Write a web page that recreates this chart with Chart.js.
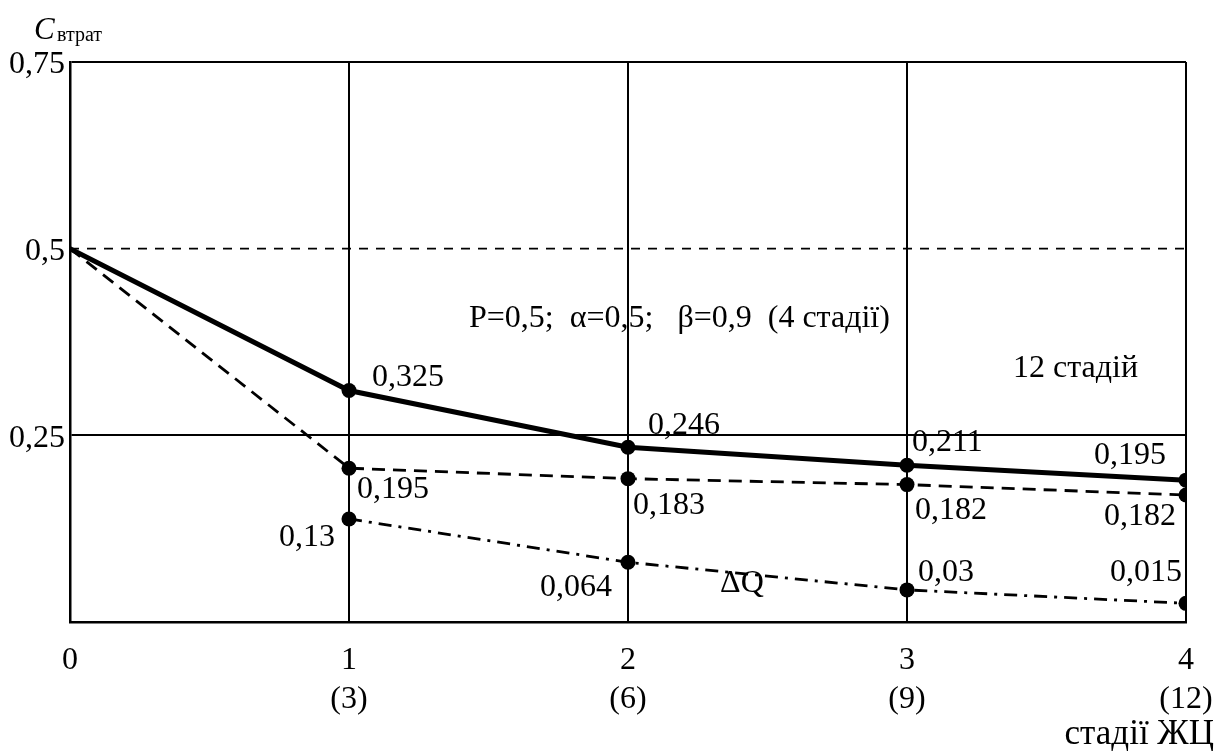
<!DOCTYPE html>
<html>
<head>
<meta charset="utf-8">
<script src="https://cdn.jsdelivr.net/npm/chart.js@4/dist/chart.umd.min.js"></script>
<style>
  body { margin: 0; background: #fff; }
  #wrap { width: 1217px; height: 751px; position: relative; }
</style>
</head>
<body>
<div id="wrap"><canvas id="myChart"></canvas></div>
<script>
// stages of the life cycle (in brackets - for 12 stages)
const stages = [0, 1, 2, 3, 4];
const stagesSub = ["", "(3)", "(6)", "(9)", "(12)"];

// values as drawn on the picture
const lossFour = [0.5, 0.310, 0.234, 0.210, 0.190];
const lossTwelve = [0.5, 0.206, 0.192, 0.184, 0.170];
const deltaQ = [null, 0.138, 0.080, 0.043, 0.025];
const refLevel = [0.5, 0.5, 0.5, 0.5, 0.5];

// labels written next to the points
const lossFourText = ["", "0,325", "0,246", "0,211", "0,195"];
const lossTwelveText = ["", "0,195", "0,183", "0,182", "0,182"];
const deltaQText = ["", "0,13", "0,064", "0,03", "0,015"];

const yTicks = [0, 0.25, 0.5, 0.75];

const FONT = "'Liberation Serif', 'Times New Roman', serif";

function pts(arr) {
    return stages.map((s, i) => ({ x: s, y: arr[i] }));
}

function fmt(v) {
    return String(v).replace(".", ",");
}

// where each label sits relative to its point (px)
const labelPlace = {
    four: [null, [23, -13, "left"], [20, -22, "left"], [5, -23, "left"], [-20, -25, "right"]],
    twelve: [null, [8, 21, "left"], [5, 27, "left"], [8, 26, "left"], [-10, 22, "right"]],
    dq: [null, [-14, 19, "right"], [-16, 25, "right"], [11, -17, "left"], [-4, -31, "right"]],
};

const notesPlugin = {
    id: "notes",
    afterDatasetsDraw(chart) {
        const ctx = chart.ctx;
        const xs = chart.scales.x;
        const ys = chart.scales.y;
        ctx.save();
        ctx.fillStyle = "#000";
        ctx.textBaseline = "middle";
        ctx.font = "32px " + FONT;

        const groups = [
            [lossFour, lossFourText, labelPlace.four],
            [lossTwelve, lossTwelveText, labelPlace.twelve],
            [deltaQ, deltaQText, labelPlace.dq],
        ];
        groups.forEach(([vals, texts, place]) => {
            vals.forEach((v, i) => {
                if (v === null || !texts[i]) return;
                const px = xs.getPixelForValue(stages[i]);
                const py = ys.getPixelForValue(v);
                ctx.textAlign = place[i][2];
                ctx.fillText(texts[i], px + place[i][0], py + place[i][1]);
            });
        });

        ctx.textAlign = "left";
        ctx.fillText("P=0,5;  α=0,5;   β=0,9  (4 стадії)", xs.getPixelForValue(1.43), ys.getPixelForValue(0.407));
        ctx.fillText("12 стадій", xs.getPixelForValue(3.38), ys.getPixelForValue(0.340));
        ctx.fillText("ΔQ", xs.getPixelForValue(2.33), ys.getPixelForValue(0.052));

        // axis titles
        ctx.textBaseline = "alphabetic";
        ctx.font = "italic 31px " + FONT;
        ctx.fillText("C", 34, 39);
        ctx.font = "20px " + FONT;
        ctx.fillText("втрат", 57, 41);

        ctx.textAlign = "right";
        ctx.font = "35px " + FONT;
        ctx.fillText("стадії ЖЦ", 1214, 744);
        ctx.restore();
    }
};

const ctx = document.getElementById("myChart");
new Chart(ctx, {
    type: "line",
    data: {
        datasets: [
            {
                data: pts(lossFour),
                borderColor: "#000",
                borderWidth: 5,
                pointRadius: [0, 7.5, 7.5, 7.5, 7.5],
                pointBackgroundColor: "#000",
                pointBorderWidth: 0,
                tension: 0,
                order: 1
            },
            {
                data: pts(lossTwelve),
                borderColor: "#000",
                borderWidth: 2.8,
                borderDash: [13, 8],
                pointRadius: [0, 7.5, 7.5, 7.5, 7.5],
                pointBackgroundColor: "#000",
                pointBorderWidth: 0,
                tension: 0,
                order: 2
            },
            {
                data: pts(deltaQ),
                borderColor: "#000",
                borderWidth: 2.8,
                borderDash: [13, 7, 3, 7],
                pointRadius: [0, 7.5, 7.5, 7.5, 7.5],
                pointBackgroundColor: "#000",
                pointBorderWidth: 0,
                tension: 0,
                order: 3
            },
            {
                data: pts(refLevel),
                borderColor: "#000",
                borderWidth: 1.6,
                borderDash: [9, 8],
                pointRadius: 0,
                order: 4
            }
        ]
    },
    options: {
        responsive: true,
        maintainAspectRatio: false,
        animation: false,
        layout: { padding: { top: 62, right: 31, left: 0, bottom: 0 } },
        plugins: {
            legend: { display: false },
            tooltip: { enabled: false }
        },
        scales: {
            x: {
                type: "linear",
                min: 0,
                max: 4,
                afterFit: (s) => {
                    s.height = 129;
                    s.paddingLeft = 0;
                    s.paddingRight = 0;
                },
                afterBuildTicks: (s) => { s.ticks = stages.map((v) => ({ value: v })); },
                ticks: {
                    color: "#000",
                    padding: 19,
                    font: { family: FONT, size: 32, lineHeight: 1.22 },
                    maxRotation: 0,
                    callback: (v) => {
                        const i = stages.indexOf(v);
                        return stagesSub[i] ? [String(v), stagesSub[i]] : String(v);
                    }
                },
                grid: { color: "#000", lineWidth: 2, drawTicks: false },
                border: { color: "#000", width: 2.5 }
            },
            y: {
                min: 0,
                max: 0.75,
                afterFit: (s) => { s.width = 70; },
                afterBuildTicks: (s) => { s.ticks = yTicks.map((v) => ({ value: v })); },
                ticks: {
                    color: "#000",
                    padding: 5,
                    labelOffset: 3,
                    font: { family: FONT, size: 32 },
                    callback: (v) => (v === 0 ? "" : fmt(v))
                },
                grid: {
                    color: (c) => (c.tick && c.tick.value === 0.5 ? "rgba(0,0,0,0)" : "#000"),
                    lineWidth: 2,
                    drawTicks: false
                },
                border: { color: "#000", width: 2.5 }
            }
        }
    },
    plugins: [notesPlugin]
});
</script>
</body>
</html>
